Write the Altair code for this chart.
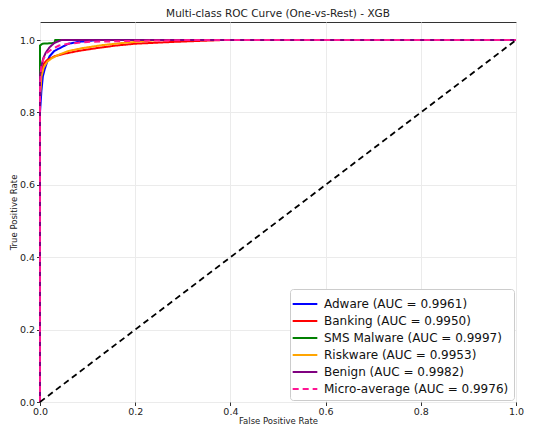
import altair as alt
import pandas as pd

labels = [
    "Adware (AUC = 0.9961)",
    "Banking (AUC = 0.9950)",
    "SMS Malware (AUC = 0.9997)",
    "Riskware (AUC = 0.9953)",
    "Benign (AUC = 0.9982)",
    "Micro-average (AUC = 0.9976)",
]
colors = ["#0000ff", "#ff0000", "#008000", "#ffa500", "#800080", "#ff1493"]

adware_fpr = [0, 0, 0.003, 0.006, 0.01, 0.015, 0.02, 0.03, 0.045, 0.06, 0.08, 0.12, 1.0]
adware_tpr = [0, 0.80, 0.86, 0.90, 0.92, 0.94, 0.955, 0.97, 0.98, 0.99, 0.995, 1.0, 1.0]

banking_fpr = [0, 0, 0.003, 0.008, 0.015, 0.03, 0.05, 0.08, 0.12, 0.16, 0.2, 0.28, 0.38, 1.0]
banking_tpr = [0, 0.86, 0.91, 0.935, 0.945, 0.955, 0.962, 0.97, 0.978, 0.985, 0.99, 0.995, 1.0, 1.0]

sms_fpr = [0, 0, 0.005, 0.03, 0.032, 1.0]
sms_tpr = [0, 0.985, 0.99, 0.992, 1.0, 1.0]

risk_fpr = [0, 0, 0.003, 0.008, 0.015, 0.025, 0.04, 0.06, 0.09, 0.13, 0.18, 0.25, 1.0]
risk_tpr = [0, 0.84, 0.90, 0.925, 0.94, 0.95, 0.96, 0.97, 0.978, 0.986, 0.993, 1.0, 1.0]

benign_fpr = [0, 0, 0.003, 0.007, 0.012, 0.02, 0.03, 0.045, 1.0]
benign_tpr = [0, 0.90, 0.93, 0.95, 0.965, 0.98, 0.992, 1.0, 1.0]

micro_fpr = [0, 0, 0.003, 0.008, 0.015, 0.025, 0.04, 0.06, 0.1, 0.2, 0.3, 1.0]
micro_tpr = [0, 0.88, 0.93, 0.95, 0.965, 0.975, 0.985, 0.99, 0.995, 0.998, 1.0, 1.0]

diag = [0.0, 1.0]

series = [
    (adware_fpr, adware_tpr),
    (banking_fpr, banking_tpr),
    (sms_fpr, sms_tpr),
    (risk_fpr, risk_tpr),
    (benign_fpr, benign_tpr),
    (micro_fpr, micro_tpr),
]

rows = []
for i, (lab, (fx, ty)) in enumerate(zip(labels, series)):
    for j, (a, b) in enumerate(zip(fx, ty)):
        rows.append({"series": lab, "fpr": a, "tpr": b, "idx": j, "ord": i})
df = pd.DataFrame(rows)
ddf = pd.DataFrame({"fpr": diag, "tpr": diag})

ticks = [0.0, 0.2, 0.4, 0.6, 0.8, 1.0]

xax = alt.Axis(values=ticks, format=".1f", title="False Positive Rate", titleFontSize=8.5,
               labelFontSize=9.5, tickSize=3.5, labelPadding=1, titlePadding=0,
               labelFlush=False, gridColor="#ebebeb", tickColor="#333", domain=False,
               labelColor="#222", titleColor="#222", titleFontWeight="normal")
yax = alt.Axis(values=ticks, format=".1f", title="True Positive Rate", titleFontSize=8.5,
               labelFontSize=9.5, tickSize=3.5, labelPadding=2, titlePadding=1,
               labelFlush=False, gridColor="#ebebeb", tickColor="#333", domain=False,
               labelColor="#222", titleColor="#222", titleFontWeight="normal")

x = alt.X("fpr:Q", scale=alt.Scale(domain=[0, 1], nice=False, zero=False), axis=xax)
y = alt.Y("tpr:Q", scale=alt.Scale(domain=[0, 1.05], nice=False, zero=False), axis=yax)

legend = alt.Legend(title=None, orient="bottom-right", offset=2, symbolType="M-1.45,0H1.45",
                    symbolSize=289, symbolStrokeWidth=2.2, labelFontSize=12,
                    labelColor="#111", strokeColor="#cccccc", fillColor="white",
                    padding=5, cornerRadius=3, rowPadding=1, labelOffset=9,
                    labelLimit=300)

lines = alt.Chart(df).mark_line(strokeWidth=2, interpolate="linear").encode(
    x=x, y=y,
    color=alt.Color("series:N", scale=alt.Scale(domain=labels, range=colors), legend=legend, sort=labels),
    strokeDash=alt.StrokeDash("series:N", scale=alt.Scale(domain=labels, range=[[1, 0]] * 5 + [[6, 4]]),
                              legend=legend, sort=labels),
    order="idx:Q",
    detail="series:N",
)

diagonal = alt.Chart(ddf).mark_line(strokeWidth=1.8, color="black", strokeDash=[6, 4]).encode(x=x, y=y)

chart = (lines + diagonal).properties(
    width=476, height=380,
    title=alt.TitleParams("Multi-class ROC Curve (One-vs-Rest) - XGB", fontSize=10.5,
                          fontWeight="normal", color="#222", offset=3),
    autosize=alt.AutoSizeParams(type="none"),
    padding={"left": 32, "top": 14, "right": 9, "bottom": 22},
).configure(font="DejaVu Sans").configure_view(stroke="#333", strokeWidth=1)

chart.save("out.html", embed_options={"renderer": "svg", "actions": False})
